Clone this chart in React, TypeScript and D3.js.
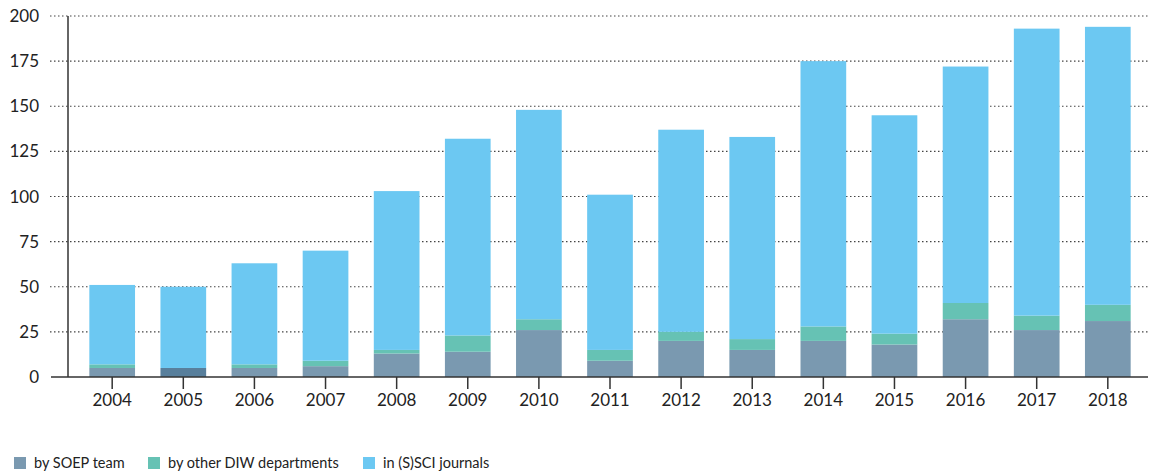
import React from "react";
import * as d3 from "d3";

const years = ["2004","2005","2006","2007","2008","2009","2010","2011","2012","2013","2014","2015","2016","2017","2018"];
const soepTeam = [5, 5, 5, 6, 13, 14, 26, 9, 20, 15, 20, 18, 32, 26, 31];
const otherDiw = [2, 0, 2, 3, 2, 9, 6, 6, 5, 6, 8, 6, 9, 8, 9];
const totals = [51, 50, 63, 70, 103, 132, 148, 101, 137, 133, 175, 145, 172, 193, 194];
const yTicks = [0, 25, 50, 75, 100, 125, 150, 175, 200];
const seriesNames = ["by SOEP team", "by other DIW departments", "in (S)SCI journals"];
const colors = ["#7a99b0", "#66c2b4", "#6cc8f2"];
const darkSoep = "#587f9c";

export default function App() {
  const W = 1151, H = 475;
  const font = "Lato, 'Open Sans', sans-serif";
  const x = d3.scaleBand<string>().domain(years).range([68, 1152]).paddingInner(0.3574).paddingOuter(0.3);
  const y = d3.scaleLinear().domain([0, 200]).range([377, 16]);
  const rows = years.map((yr, i) => ({
    year: yr,
    s: soepTeam[i],
    o: otherDiw[i],
    j: totals[i] - soepTeam[i] - otherDiw[i],
  }));
  const stack = d3.stack<any>().keys(["s", "o", "j"])(rows as any);
  const legendX = [14, 148, 363];
  return (
    <svg width={W} height={H} style={{ position: "absolute", left: 0, top: 0 }} fontFamily={font}>
      {yTicks.filter(t => t > 0).map(t => (
        <line key={t} x1={50} x2={1150} y1={y(t)} y2={y(t)} stroke="#444" strokeWidth={1.2} strokeDasharray="1.5,2.5" />
      ))}
      {stack.map((layer, li) =>
        layer.map((d, i) => (
          <rect key={li + "-" + i}
            x={x(years[i])!} width={x.bandwidth()}
            y={y(d[1])} height={Math.max(0, y(d[0]) - y(d[1]))}
            fill={li === 0 && otherDiw[i] === 0 ? darkSoep : colors[li]} />
        ))
      )}
      <line x1={68} x2={68} y1={16} y2={377} stroke="#333" strokeWidth={1.5} />
      <line x1={51} x2={1148} y1={377} y2={377} stroke="#333" strokeWidth={1.5} />
      {years.map(yr => {
        const cx = x(yr)! + x.bandwidth() / 2;
        return (
          <g key={yr}>
            <line x1={cx} x2={cx} y1={377} y2={389} stroke="#333" strokeWidth={1.5} />
            <text x={cx} y={406} textAnchor="middle" fontSize={17} fill="#222">{yr}</text>
          </g>
        );
      })}
      {yTicks.map(t => (
        <text key={t} x={39} y={y(t) + 6} textAnchor="end" fontSize={17} fill="#222">{t}</text>
      ))}
      {seriesNames.map((n, i) => (
        <g key={n}>
          <rect x={legendX[i]} y={457} width={12} height={12} fill={colors[i]} />
          <text x={legendX[i] + 20} y={468} fontSize={14.5} fill="#222">{n}</text>
        </g>
      ))}
    </svg>
  );
}
